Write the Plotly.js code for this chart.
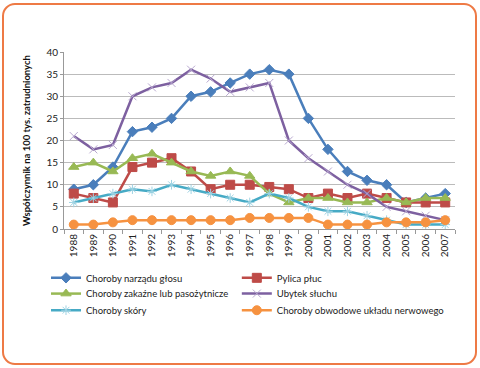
<!DOCTYPE html>
<html><head><meta charset="utf-8">
<script src="https://cdn.plot.ly/plotly-3.0.1.min.js"></script>
<style>
html,body{margin:0;padding:0;background:#fff;}
#wrap{position:relative;width:480px;height:368px;}
#chart{width:480px;height:368px;}
#frame{position:absolute;left:2px;top:3px;width:471px;height:358px;border:2px solid #ee7a45;border-radius:13px;pointer-events:none;}
</style></head>
<body><div id="wrap"><div id="chart"></div><div id="frame"></div></div>
<script>
const years = ['1988','1989','1990','1991','1992','1993','1994','1995','1996','1997','1998','1999','2000','2001','2002','2003','2004','2005','2006','2007'];
const glosu   = [9,10,14,22,23,25,30,31,33,35,36,35,25,18,13,11,10,6,7,8];
const pylica  = [8,7,6,14,15,16,13,9,10,10,9.5,9,7,8,7,8,7,6,6,6];
const zakazne = [14,15,13,16,17,15,13,12,13,12,8,6,7,7,6,6,7,6,7,7];
const sluch   = [21,18,19,30,32,33,36,34,31,32,33,20,16,13,10,8,5,4,3,2];
const skory   = [6,7,8,9,8.5,10,9,8,7,6,8,7,5,4,4,3,2,1,1,1];
const nerw    = [1,1,1.5,2,2,2,2,2,2,2.5,2.5,2.5,2.5,1,1,1,1.5,1.5,1.5,2];
const names = ['Choroby narządu głosu','Pylica płuc','Choroby zakaźne lub pasożytnicze','Ubytek słuchu','Choroby skóry','Choroby obwodowe układu nerwowego'];

function tr(y, name, color, sym, msize, mcolor, leg){
  return {x: years, y: y, name: name, type:'scatter', mode:'lines+markers', legend: leg,
    line:{color:color, width:2.5},
    marker:{symbol:sym, size:msize, color:mcolor||color, line:{color:mcolor||color, width:1}}};
}
const data = [
  tr(glosu, names[0], '#4a7ebb', 'diamond', 8, null, 'legend'),
  tr(pylica, names[1], '#be4b48', 'square', 9, null, 'legend2'),
  tr(zakazne, names[2], '#98b954', 'triangle-up', 9, null, 'legend3'),
  tr(sluch, names[3], '#7d60a0', 'x-thin-open', 8, '#b9a9d0', 'legend4'),
  tr(skory, names[4], '#46aac5', 'asterisk-open', 8, '#9fd3e3', 'legend5'),
  tr(nerw, names[5], '#f69240', 'circle', 9, null, 'legend6')
];
function leg(x, y){
  return {orientation:'v', x:x, y:y, xanchor:'left', yanchor:'top', itemwidth:30,
    font:{size:9.5, color:'#222'}, bgcolor:'rgba(0,0,0,0)'};
}
const c1 = -0.046, c2 = 0.442;
const r1 = -0.194, r2 = -0.283, r3 = -0.377;
const layout = {
  width:480, height:368,
  margin:{l:64, r:25, t:52, b:139, autoexpand:false},
  paper_bgcolor:'#fff', plot_bgcolor:'#fff',
  font:{family:'Lato, "Open Sans", sans-serif', size:10, color:'#222'},
  showlegend:true,
  legend: leg(c1, r1),
  legend2: leg(c2, r1),
  legend3: leg(c1, r2),
  legend4: leg(c2, r2),
  legend5: leg(c1, r3),
  legend6: leg(c2, r3),
  xaxis:{type:'category', range:[-0.5,19.5], tickangle:-90, showgrid:false,
    showline:true, linecolor:'#999', linewidth:1, ticks:'outside', tickson:'boundaries',
    ticklen:4, tickcolor:'#999', tickfont:{size:10, color:'#222'}},
  yaxis:{range:[0,40], dtick:5, showgrid:true, gridcolor:'#bbb', gridwidth:1,
    showline:true, linecolor:'#999', ticks:'outside', ticklen:3, tickcolor:'#999',
    zeroline:false, tickfont:{size:10, color:'#222'},
    title:{text:'Współczynnik na 100 tys. zatrudnionych', font:{size:9.5, color:'#111', weight:'bold'}, standoff:14}}
};
Plotly.newPlot('chart', data, layout, {displayModeBar:false, staticPlot:true});
</script></body></html>
